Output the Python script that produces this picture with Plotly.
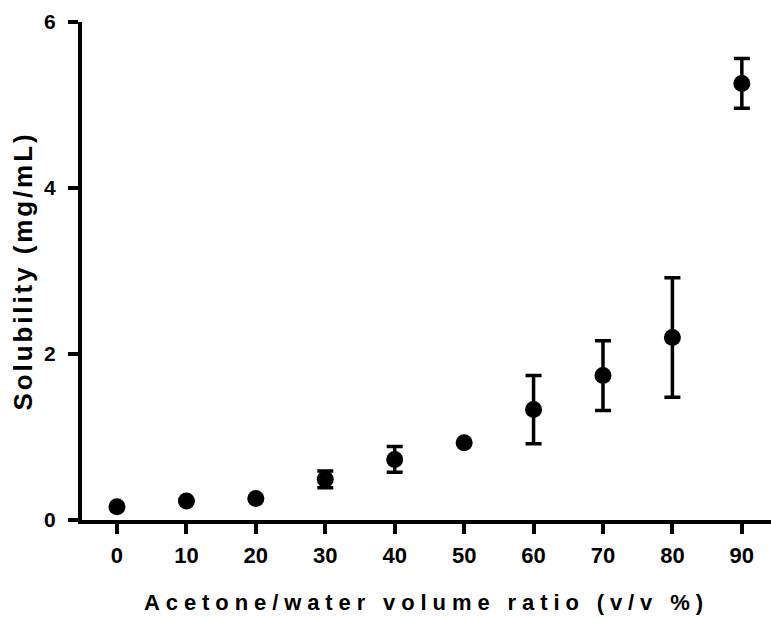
import plotly.graph_objects as go

ratio = [0, 10, 20, 30, 40, 50, 60, 70, 80, 90]
solubility = [0.16, 0.23, 0.26, 0.49, 0.73, 0.93, 1.33, 1.74, 2.20, 5.26]
sd = [None, None, None, 0.10, 0.155, None, 0.41, 0.42, 0.72, 0.30]
y_ticks = [0, 2, 4, 6]

FONT = "Arial, Liberation Sans, sans-serif"

fig = go.Figure()
fig.add_trace(go.Scatter(
    x=ratio, y=solubility, mode="markers",
    marker=dict(color="black", size=17),
    error_y=dict(type="data", array=sd, visible=True, color="black",
                 thickness=3.5, width=8),
    cliponaxis=False, showlegend=False,
))

fig.update_layout(
    width=771, height=618,
    margin=dict(l=82, r=0, t=22, b=98),
    paper_bgcolor="white", plot_bgcolor="white",
    font=dict(family=FONT, color="black", size=22, weight="bold"),
)
fig.update_xaxes(
    range=[-5.04, 94.2], tickvals=ratio, ticktext=[str(v) for v in ratio],
    showgrid=False, zeroline=False,
    showline=True, linecolor="black", linewidth=4,
    ticks="outside", ticklen=10, tickwidth=4, tickcolor="black",
    ticklabelstandoff=3,
    tickfont=dict(family=FONT, size=22, weight="bold"),
    title=dict(text="Acetone/water volume ratio (v/v %)", standoff=28,
               font=dict(family=FONT, size=22, weight="bold")),
)
fig.update_yaxes(
    range=[0, 6], tickvals=y_ticks, ticktext=[str(v) for v in y_ticks],
    showgrid=False, zeroline=False,
    showline=True, linecolor="black", linewidth=4,
    ticks="outside", ticklen=10, tickwidth=4, tickcolor="black",
    ticklabelstandoff=8,
    tickfont=dict(family=FONT, size=21, weight="bold"),
    title=dict(text="Solubility (mg/mL)", standoff=5,
               font=dict(family=FONT, size=26, weight="bold")),
)

post = """
var s = document.createElement('style');
s.textContent = '.xtitle{letter-spacing:5.9px;} .ytitle{letter-spacing:2.9px;}';
document.head.appendChild(s);
"""
fig.write_html("out.html", post_script=post)
